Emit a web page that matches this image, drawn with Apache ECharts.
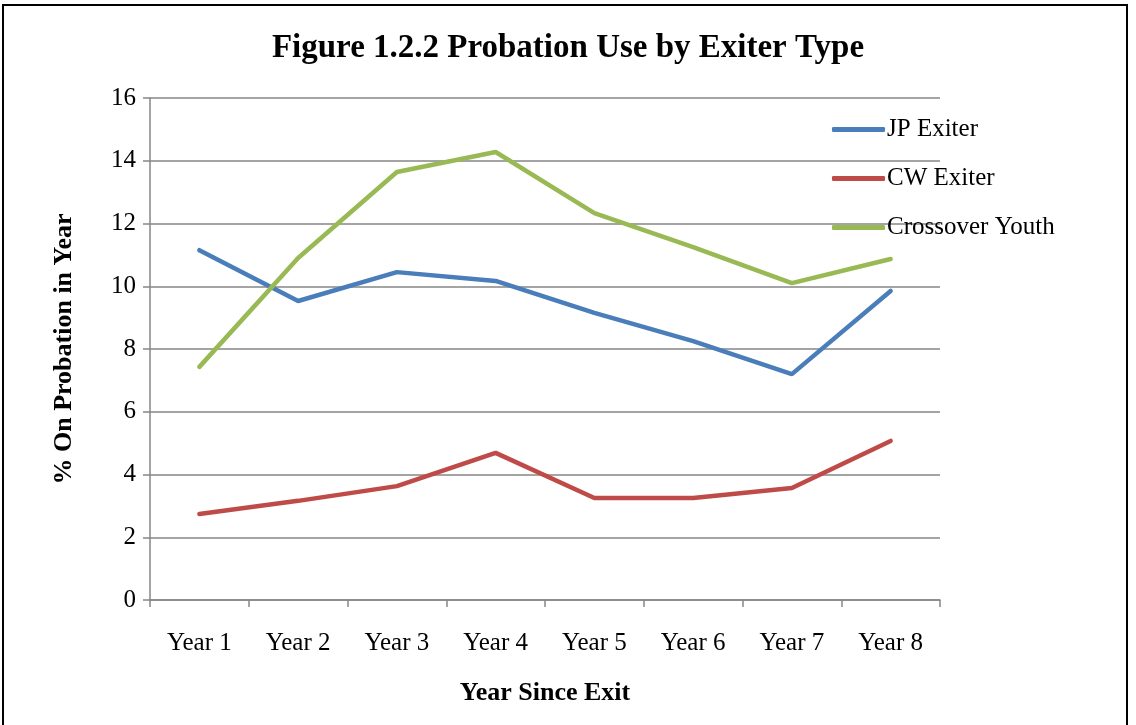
<!DOCTYPE html>
<html>
<head>
<meta charset="utf-8">
<script src="https://cdn.jsdelivr.net/npm/echarts@6/dist/echarts.min.js"></script>
<style>
  html, body { margin: 0; padding: 0; background: #fff; }
  #wrap { position: relative; width: 1136px; height: 725px; overflow: hidden; }
  #frame { position: absolute; left: 2px; top: 4px; width: 1126px; height: 730px; border: 2px solid #000; box-sizing: border-box; }
  #chart { position: absolute; left: 0; top: 0; width: 1136px; height: 725px; }
</style>
</head>
<body>
<div id="wrap">
  <div id="frame"></div>
  <div id="chart"></div>
</div>
<script>
const years = ['Year 1', 'Year 2', 'Year 3', 'Year 4', 'Year 5', 'Year 6', 'Year 7', 'Year 8']
const jpExiter = [11.15, 9.53, 10.45, 10.17, 9.15, 8.25, 7.2, 9.85]
const cwExiter = [2.74, 3.16, 3.63, 4.69, 3.25, 3.25, 3.57, 5.07]
const crossover = [7.43, 10.9, 13.64, 14.28, 12.33, 11.25, 10.1, 10.87]

const font = 'Liberation Serif'
const myChart = echarts.init(document.getElementById('chart'), null, { renderer: 'canvas' })

const lineSeries = (name, data, color) => ({
  name,
  type: 'line',
  data,
  symbol: 'none',
  lineStyle: { width: 4.5, color, cap: 'round' },
  itemStyle: { color },
  animation: false,
})

myChart.setOption({
  backgroundColor: 'transparent',
  textStyle: { fontFamily: font },
  title: {
    text: 'Figure 1.2.2 Probation Use by Exiter Type',
    left: 'center',
    top: 27,
    textStyle: { fontFamily: font, fontWeight: 'bold', fontSize: 33, color: '#000' },
  },
  legend: {
    orient: 'vertical',
    left: 832,
    top: 117,
    padding: 0,
    itemWidth: 53,
    itemHeight: 5,
    itemGap: 24,
    icon: 'roundRect',
    textStyle: { fontFamily: font, fontSize: 25, color: '#000', padding: [0, 0, 0, -3] },
    data: ['JP Exiter', 'CW Exiter', 'Crossover Youth'],
  },
  grid: { left: 150, right: 196, top: 98, bottom: 125 },
  xAxis: {
    type: 'category',
    data: years,
    boundaryGap: true,
    name: 'Year Since Exit',
    nameLocation: 'middle',
    nameGap: 80,
    nameTextStyle: { fontFamily: font, fontWeight: 'bold', fontSize: 26, color: '#000' },
    axisLine: { lineStyle: { color: '#868686', width: 1.5 } },
    axisTick: { show: true, length: 7, lineStyle: { color: '#868686', width: 1.5 } },
    axisLabel: { fontFamily: font, fontSize: 25, color: '#000', margin: 31 },
  },
  yAxis: {
    type: 'value',
    min: 0,
    max: 16,
    interval: 2,
    name: '% On Probation in Year',
    nameLocation: 'middle',
    nameGap: 73,
    nameTextStyle: { fontFamily: font, fontWeight: 'bold', fontSize: 26, color: '#000' },
    axisLine: { show: true, lineStyle: { color: '#868686', width: 1.5 } },
    axisTick: { show: true, length: 7, lineStyle: { color: '#868686', width: 1.5 } },
    axisLabel: { fontFamily: font, fontSize: 25, color: '#000', margin: 14 },
    splitLine: { lineStyle: { color: '#868686', width: 1.5 } },
  },
  series: [
    lineSeries('JP Exiter', jpExiter, '#4A7EBB'),
    lineSeries('CW Exiter', cwExiter, '#BE4B48'),
    lineSeries('Crossover Youth', crossover, '#98B954'),
  ],
})
</script>
</body>
</html>
